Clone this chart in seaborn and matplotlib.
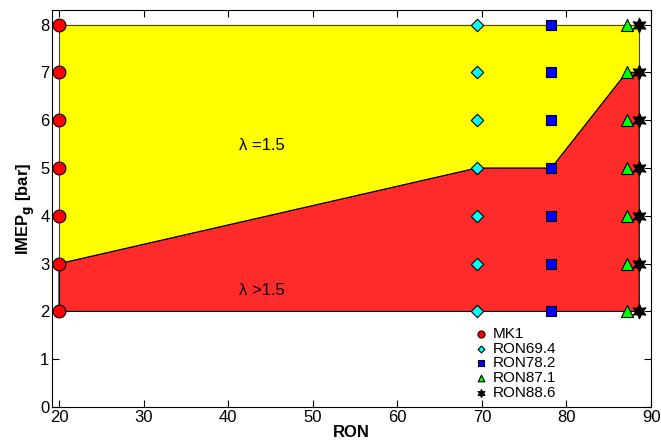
import numpy as np
import pandas as pd
import matplotlib
matplotlib.use("Agg")
import matplotlib.pyplot as plt
import seaborn as sns

sns.set_style("ticks")
plt.rcParams['font.family'] = ['Liberation Sans', 'DejaVu Sans']
plt.rcParams.update({"text.color": "black", "axes.labelcolor": "black",
                     "xtick.color": "black", "ytick.color": "black",
                     "axes.edgecolor": "black"})

fuels = ["MK1", "RON69.4", "RON78.2", "RON87.1", "RON88.6"]
fuel_ron = [20, 69.4, 78.2, 87.1, 88.6]
imep_levels = [2, 3, 4, 5, 6, 7, 8]

# boundary between lambda=1.5 and lambda>1.5
bound_x = [20, 69.4, 78.2, 87.1, 88.6]
bound_y = [3, 5, 5, 7, 7]

rows = []
for f, r in zip(fuels, fuel_ron):
    for v in imep_levels:
        rows.append({"fuel": f, "RON": r, "IMEP": v})
df = pd.DataFrame(rows)

fig = plt.figure(figsize=(6.61, 4.42), dpi=100)
ax = fig.add_axes([0.079, 0.079, 0.906, 0.898])

# red region
rx = [20] + bound_x + [88.6]
ry = [2] + bound_y + [2]
ax.fill(rx, ry, color="#ff2a2a", edgecolor="black", linewidth=0.8, zorder=1)
# yellow region
yx = bound_x + [88.6, 20]
yy = bound_y + [8, 8]
ax.fill(yx, yy, color="#ffff00", edgecolor="none", zorder=1)
ax.plot(bound_x, bound_y, color="black", lw=0.8, zorder=2)
ax.plot([20, 20, 88.6, 88.6], [3, 8, 8, 7], color="#444444", lw=0.8, zorder=2)
ax.plot([20, 20], [2, 3], color="black", lw=0.8, zorder=2)

markers = {"MK1": "o", "RON69.4": "D", "RON78.2": "s", "RON87.1": "^", "RON88.6": (6, 1, 0)}
palette = {"MK1": "#ff0000", "RON69.4": "#00ffff", "RON78.2": "#0000ff", "RON87.1": "#00ff00", "RON88.6": "#000000"}
sizes = {"MK1": 85, "RON69.4": 40, "RON78.2": 50, "RON87.1": 75, "RON88.6": 110}

for f in fuels:
    sub = df[df.fuel == f]
    sns.scatterplot(data=sub, x="RON", y="IMEP", marker=markers[f], color=palette[f],
                    s=sizes[f], edgecolor="black", linewidth=0.8, ax=ax, zorder=5, label=f,
                    clip_on=False)

ax.text(44, 5.47, "λ =1.5", fontsize=12, ha="center", va="center")
ax.text(44, 2.44, "λ >1.5", fontsize=12, ha="center", va="center")

ax.set_xlim(19.2, 90)
ax.set_ylim(0, 8.3)
ax.set_xticks([20, 30, 40, 50, 60, 70, 80, 90])
ax.set_yticks([0, 1, 2, 3, 4, 5, 6, 7, 8])
ax.tick_params(direction="in", labelsize=12, top=True, right=True, length=5, pad=2)
ax.set_xlabel("RON", fontsize=12, fontweight="bold", labelpad=0)
ax.set_ylabel(r"IMEP$_\mathbf{g}$ [bar]", fontsize=12, fontweight="bold", labelpad=2)
for s in ax.spines.values():
    s.set_linewidth(0.8)

leg = ax.legend(loc="upper left", bbox_to_anchor=(0.703, 0.202), frameon=False, fontsize=11,
                handlelength=1.0, handletextpad=0.3, labelspacing=0.05, borderaxespad=0,
                borderpad=0, markerscale=0.55)

fig.savefig("out.png", dpi=100)
